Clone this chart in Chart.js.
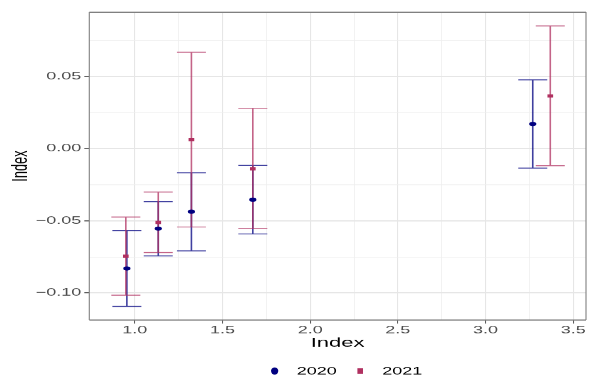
<!DOCTYPE html>
<html>
<head>
<meta charset="utf-8">
<script src="https://cdn.jsdelivr.net/npm/chart.js@4/dist/chart.umd.min.js"></script>
<style>
html,body{margin:0;padding:0;background:#fff;overflow:hidden;width:590px;height:378px}
#wrap{width:590px;height:652px;transform:scaleY(0.57975);transform-origin:0 0}
canvas{display:block}
</style>
</head>
<body>
<div id="wrap"><canvas id="c" width="590" height="652"></canvas></div>
<script>
// ---- data ----
const seriesNames = ['2020', '2021'];
const x2020   = [0.955, 1.134, 1.323, 1.673, 3.269];
const est2020 = [-0.0830, -0.0554, -0.0437, -0.0354, 0.0170];
const lo2020  = [-0.1093, -0.0743, -0.0708, -0.0591, -0.0135];
const hi2020  = [-0.0568, -0.0368, -0.0168, -0.0116, 0.0476];
const x2021   = [0.949, 1.134, 1.323, 1.673, 3.369];
const est2021 = [-0.0745, -0.0511, 0.0062, -0.0140, 0.0364];
const lo2021  = [-0.1015, -0.0720, -0.0543, -0.0554, -0.0119];
const hi2021  = [-0.0474, -0.0301, 0.0667, 0.0279, 0.0849];
const xTicks = [1.0, 1.5, 2.0, 2.5, 3.0, 3.5];
const xMinorTicks = [1.25, 1.75, 2.25, 2.75, 3.25];
const yTicks = [-0.10, -0.05, 0.00, 0.05];
const yMinorTicks = [-0.075, -0.025, 0.025, 0.075];
const xTitle = 'Index';
const yTitle = 'Index';

// ---- styling ----
const FONT = '"Liberation Sans", Arial, Helvetica, sans-serif';
const SQ = 378 / 652; // vertical squash applied by CSS
const navy = '#000080', maroon = '#b03060';
const lineCols = ['rgba(0,0,128,0.75)', 'rgba(176,48,96,0.75)'];
const errLo = [lo2020, lo2021], errHi = [hi2020, hi2021];

const isIn = (arr, v) => arr.some(t => Math.abs(t - v) < 1e-9);
const fmt = (v, d) => (v < -1e-12 ? '\u2212' : '') + Math.abs(v).toFixed(d);

const bgPlugin = {
  id: 'bg',
  beforeDraw(chart) {
    const ctx = chart.ctx;
    ctx.save(); ctx.fillStyle = '#fff';
    ctx.fillRect(0, 0, chart.width, chart.height); ctx.restore();
  }
};

const errorBars = {
  id: 'errorBars',
  beforeDatasetsDraw(chart) {
    const ctx = chart.ctx, xs = chart.scales.x, ys = chart.scales.y;
    const half = 14.5;
    chart.data.datasets.forEach((ds, i) => {
      ctx.save();
      ctx.strokeStyle = lineCols[i];
      ctx.lineWidth = 1.6;
      ds.data.forEach((p, j) => {
        const x = xs.getPixelForValue(p.x);
        const yl = ys.getPixelForValue(errLo[i][j]);
        const yh = ys.getPixelForValue(errHi[i][j]);
        ctx.beginPath();
        ctx.moveTo(x, yl); ctx.lineTo(x, yh);
        ctx.moveTo(x - half, yl); ctx.lineTo(x + half, yl);
        ctx.moveTo(x - half, yh); ctx.lineTo(x + half, yh);
        ctx.stroke();
      });
      ctx.restore();
    });
  }
};

const panelBorder = {
  id: 'panelBorder',
  afterDatasetsDraw(chart) {
    const {left, right, top, bottom} = chart.chartArea;
    const ctx = chart.ctx;
    ctx.save();
    ctx.strokeStyle = '#808080';
    ctx.lineWidth = 1.9;
    ctx.beginPath();
    ctx.moveTo(left, top); ctx.lineTo(right, top);
    ctx.moveTo(left, bottom); ctx.lineTo(right, bottom);
    ctx.stroke();
    ctx.lineWidth = 1.1;
    ctx.beginPath();
    ctx.moveTo(left, top); ctx.lineTo(left, bottom);
    ctx.moveTo(right, top); ctx.lineTo(right, bottom);
    ctx.stroke();
    ctx.restore();
  }
};

const bottomLegend = {
  id: 'bottomLegend',
  afterDraw(chart) {
    const ctx = chart.ctx;
    const ca = chart.chartArea;
    ctx.save();
    ctx.font = '18px ' + FONT;
    ctx.textBaseline = 'middle';
    const y = 640;
    const gapMT = 22, gapTM = 23.5, mHalf = 3.6;
    const items = chart.data.datasets.map(ds => ({
      text: ds.label, color: ds.backgroundColor, style: ds.pointStyle,
      w: ctx.measureText(ds.label).width
    }));
    let total = mHalf;
    items.forEach((it, k) => { total += gapMT + it.w + (k < items.length - 1 ? gapTM : 0); });
    let x = (ca.left + ca.right) / 2 + 9 - total / 2 + mHalf;
    items.forEach(it => {
      ctx.fillStyle = it.color;
      if (it.style === 'rect') {
        ctx.fillRect(x - 2.8, y - 4.8, 5.6, 9.6);
      } else {
        ctx.beginPath(); ctx.ellipse(x, y, 3.6, 6.2, 0, 0, Math.PI * 2); ctx.fill();
      }
      ctx.fillStyle = '#000';
      ctx.textAlign = 'left';
      ctx.fillText(it.text, x + gapMT, y + 1);
      x += gapMT + it.w + gapTM;
    });
    ctx.restore();
  }
};

const mk = (xs, ys) => xs.map((v, i) => ({x: v, y: ys[i]}));

new Chart(document.getElementById('c'), {
  type: 'scatter',
  data: {
    datasets: [
      { label: seriesNames[0], data: mk(x2020, est2020), backgroundColor: navy, borderColor: navy,
        pointStyle: 'circle', pointRadius: 3.6, pointBorderWidth: 0, pointHoverRadius: 3.6 },
      { label: seriesNames[1], data: mk(x2021, est2021), backgroundColor: maroon, borderColor: maroon,
        pointStyle: 'rect', pointRadius: 4, pointBorderWidth: 0, pointHoverRadius: 4 }
    ]
  },
  options: {
    responsive: false,
    animation: false,
    devicePixelRatio: 1,
    layout: { padding: { left: 0, right: 1.5, top: 21, bottom: 0 } },
    plugins: { legend: { display: false }, tooltip: { enabled: false } },
    scales: {
      x: {
        type: 'linear', min: 0.7408, max: 3.5726,
        afterBuildTicks: s => { s.ticks = xTicks.concat(xMinorTicks).sort((a, b) => a - b).map(v => ({value: v})); },
        afterFit: s => { s.height = 100; },
        border: { display: false },
        grid: {
          color: c => isIn(xTicks, c.tick.value) ? '#e6e6e6' : '#efefef',
          lineWidth: c => isIn(xTicks, c.tick.value) ? 1.1 : 0.8,
          tickColor: c => isIn(xTicks, c.tick.value) ? '#555555' : 'rgba(0,0,0,0)',
          tickLength: 6, tickWidth: 1
        },
        ticks: {
          autoSkip: false, maxRotation: 0, padding: 1,
          color: '#4d4d4d', font: { family: FONT, size: 18 },
          callback: v => isIn(xTicks, v) ? fmt(v, 1) : ''
        },
        title: { display: true, text: xTitle, color: '#000', font: { family: FONT, size: 22 },
                 padding: { top: 0, bottom: 47 } }
      },
      y: {
        type: 'linear', min: -0.1187, max: 0.0944,
        afterBuildTicks: s => { s.ticks = yTicks.concat(yMinorTicks).sort((a, b) => a - b).map(v => ({value: v})); },
        afterFit: s => { s.width = 89.3; },
        border: { display: false },
        grid: {
          color: c => isIn(yTicks, c.tick.value) ? '#e6e6e6' : '#efefef',
          lineWidth: c => isIn(yTicks, c.tick.value) ? 1.9 : 1.2,
          tickColor: c => isIn(yTicks, c.tick.value) ? '#555555' : 'rgba(0,0,0,0)',
          tickLength: 5, tickWidth: 1.8
        },
        ticks: {
          autoSkip: false, padding: 3,
          color: '#4d4d4d', font: { family: FONT, size: 18 },
          callback: v => isIn(yTicks, v) ? fmt(v, 2) : ''
        },
        title: { display: true, text: yTitle, color: '#000', font: { family: FONT, size: 22 },
                 padding: { top: 8, bottom: 0 } }
      }
    }
  },
  plugins: [bgPlugin, errorBars, panelBorder, bottomLegend]
});
</script>
</body>
</html>
